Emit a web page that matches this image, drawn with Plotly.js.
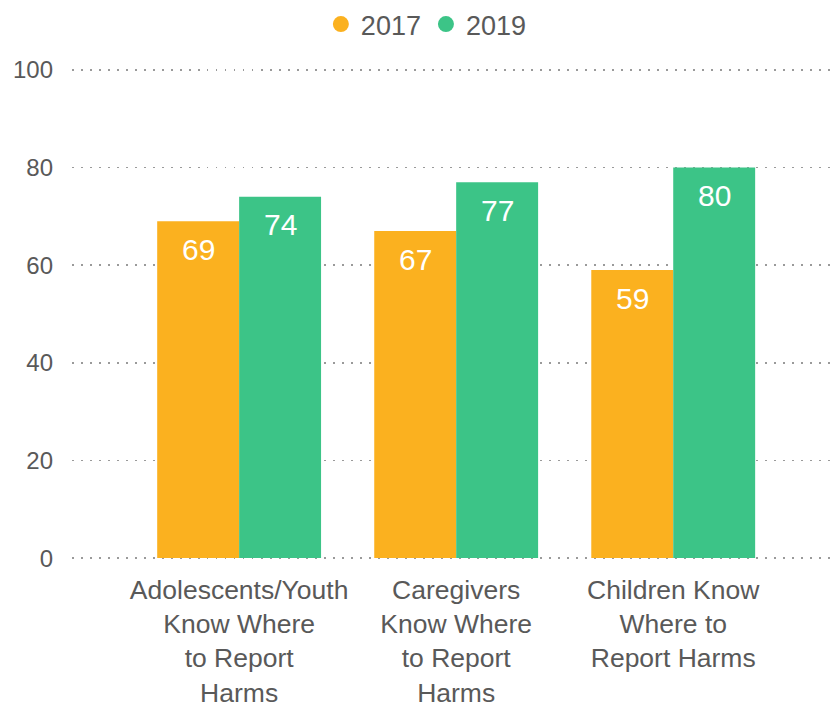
<!DOCTYPE html>
<html>
<head>
<meta charset="utf-8">
<script src="https://cdn.plot.ly/plotly-3.0.1.min.js"></script>
<style>html,body{margin:0;padding:0;background:#fff;}#chart{width:836px;height:703px;}</style>
</head>
<body>
<div id="chart"></div>
<script>
const categories = [
  "Adolescents/Youth<br>Know Where<br>to Report<br>Harms",
  "Caregivers<br>Know Where<br>to Report<br>Harms",
  "Children Know<br>Where to<br>Report Harms"
];
const series2017 = [69, 67, 59];
const series2019 = [74, 77, 80];
const seriesNames = ["2017", "2019"];
const colors = ["#FBB11F", "#3CC487"];
const yTicks = [0, 20, 40, 60, 80, 100];

const textColor = "#595959";
const font = "Liberation Sans, Arial, sans-serif";

function barTrace(vals, name, color) {
  return {
    type: "bar", x: categories, y: vals, name: name,
    marker: {color: color},
    showlegend: false, hoverinfo: "skip"
  };
}
function legendTrace(name, color) {
  return {
    type: "scatter", mode: "markers", x: [categories[0]], y: [null], name: name,
    marker: {color: color, size: 16, symbol: "circle"}, showlegend: true
  };
}

const data = [
  barTrace(series2017, seriesNames[0], colors[0]),
  barTrace(series2019, seriesNames[1], colors[1]),
  legendTrace(seriesNames[0], colors[0]),
  legendTrace(seriesNames[1], colors[1])
];

// value labels inside the top of each bar
const annotations = [];
[series2017, series2019].forEach((vals, si) => {
  vals.forEach((v, i) => {
    annotations.push({
      x: categories[i], y: v, xref: "x", yref: "y", text: String(v), showarrow: false,
      xshift: si === 0 ? -41 : 41, yshift: -28, yanchor: "middle",
      font: {size: 30, color: "#ffffff", family: font}
    });
  });
});

const layout = {
  width: 836, height: 703,
  margin: {l: 72, r: 0, t: 65, b: 140},
  paper_bgcolor: "#ffffff", plot_bgcolor: "#ffffff",
  font: {family: font, color: textColor},
  barmode: "group", bargap: 0.245, bargroupgap: 0,
  showlegend: true,
  legend: {orientation: "h", xref: "container", yref: "container", x: 0.51, xanchor: "center", y: 1, yanchor: "top",
           font: {size: 27, color: textColor}, itemwidth: 30, tracegroupgap: 0},
  annotations: annotations,
  xaxis: {
    type: "category", range: [-0.77, 2.75], showgrid: false, zeroline: false, showline: false,
    ticks: "", tickfont: {size: 26.5, color: textColor}, ticklabelstandoff: 8, fixedrange: true
  },
  yaxis: {
    range: [-1, 101], tickvals: yTicks, showgrid: true, gridcolor: "#9a9a9a", griddash: "1.5px,7.5px", gridwidth: 1.5,
    zeroline: false, showline: false, ticks: "", tickfont: {size: 24, color: textColor},
    ticklabelstandoff: 18, fixedrange: true
  }
};

Plotly.newPlot("chart", data, layout, {displayModeBar: false, staticPlot: true});
</script>
</body>
</html>
